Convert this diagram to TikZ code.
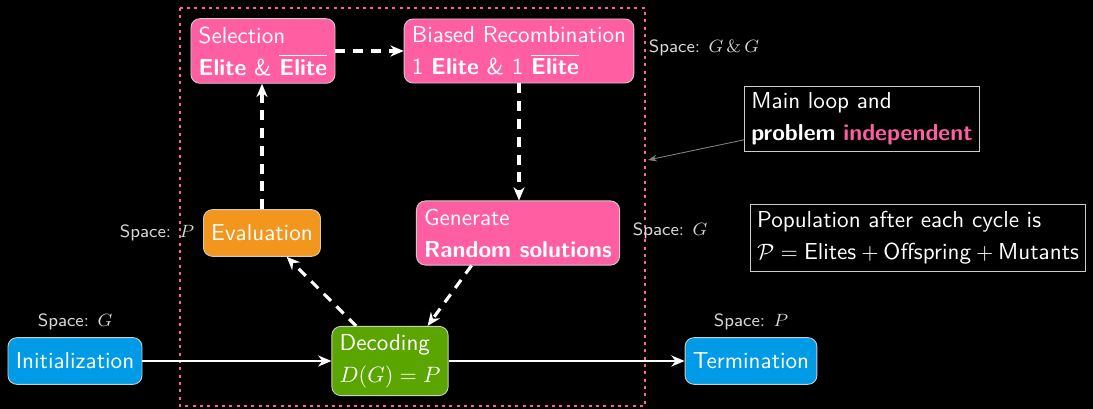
\documentclass[tikz,border=0pt]{standalone}
\usepackage{amsmath}
\usetikzlibrary{arrows.meta}
\renewcommand{\familydefault}{\sfdefault}
\definecolor{brkpink}{RGB}{255,95,162}
\definecolor{brkorange}{RGB}{243,150,30}
\definecolor{brkgreen}{RGB}{90,165,0}
\definecolor{brkblue}{RGB}{0,155,230}
\definecolor{spacegray}{RGB}{215,215,215}

\begin{document}
\begin{tikzpicture}[x=0.45pt,y=-0.45pt,
    box/.style={draw=white!80!black, rounded corners=4pt, text=white, align=left,
      inner xsep=3.5pt, inner ysep=3.5pt, minimum height=21pt,
      font=\fontsize{10.4}{14.4}\selectfont},
    note/.style={draw=white!80!black, fill=black, text=white, align=left,
      inner sep=3pt, font=\fontsize{10.4}{14.4}\selectfont},
    space/.style={text=spacegray, font=\footnotesize},
    flow/.style={white, line width=1.3pt, -{Stealth[length=6pt,width=5pt]}},
    loopflow/.style={flow, line width=1.4pt, dash pattern=on 4.5pt off 3.5pt}]
      \useasboundingbox (0,0) rectangle (1093,409);
      \fill[black] (0,0) rectangle (1093,409);
      \draw[brkpink, line width=1.3pt, dotted] (180,8) rectangle (645,406);

      \node[box, fill=brkpink] (sel) at (263,51) {Selection\\\textbf{Elite} \& $\overline{\textbf{Elite}}$};
      \node[box, fill=brkpink] (rec) at (519,51) {Biased Recombination\\1 \textbf{Elite} \& 1 $\overline{\textbf{Elite}}$};
      \node[box, fill=brkorange] (eval) at (262,233) {Evaluation};
      \node[box, fill=brkpink] (gen) at (518,233) {Generate\\\textbf{Random solutions}};
      \node[box, fill=brkgreen] (dec) at (390,361) {Decoding\\$D(G)=P$};
      \node[box, fill=brkblue] (init) at (75,361) {Initialization};
      \node[box, fill=brkblue] (term) at (751,361) {Termination};

      \node[space, anchor=west] (spacerec) at (641,48) {Space: $G\,\&\,G$};
      \node[space, anchor=east] (spaceeval) at (202,233) {Space: $P$};
      \node[space, anchor=west] (spacegen) at (625,231) {Space: $G$};
      \node[space] (spaceinit) at (75,322) {Space: $G$};
      \node[space] (spaceterm) at (751,322) {Space: $P$};

      \node[note] (mainloop) at (862,119) {Main loop and\\\textbf{problem} \textbf{\color{brkpink}independent}};
      \node[note, anchor=west] (popul) at (750,238) {Population after each cycle is\\$\mathcal{P} = \text{Elites} + \text{Offspring} + \text{Mutants}$};
      \coordinate (loopedge) at (648,160);

      \draw[loopflow] (sel) -- (rec);
      \draw[loopflow] (rec.south) -- (rec.south |- gen.north);
      \draw[loopflow] (gen.215) -- (dec.43);
      \draw[loopflow] (dec.134) -- (eval.-44);
      \draw[loopflow] (eval.north) -- (eval.north |- sel.south);
      \draw[flow] (init) -- (dec);
      \draw[flow] (dec) -- (term);
      \draw[gray, -{Stealth[length=4pt,width=3pt]}] (mainloop.190) -- (loopedge);
\end{tikzpicture}
\end{document}
